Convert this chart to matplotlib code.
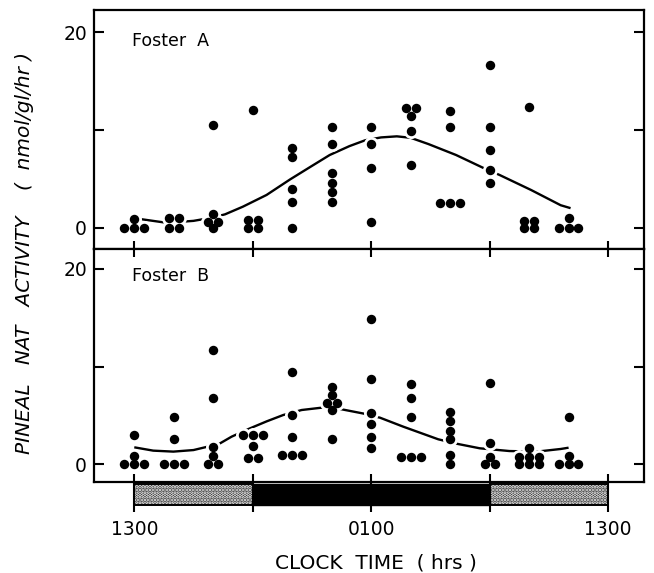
import matplotlib
matplotlib.use("Agg")
import matplotlib.pyplot as plt
from matplotlib.patches import Rectangle

plt.rcParams["hatch.linewidth"] = 1.8

# ---------------- data ----------------
hours = [0, 2, 4, 6, 8, 10, 12, 14, 16, 18, 20, 22]   # hours after 1300

foster_a = [
    [0.9, 0, 0, 0],
    [1.0, 1.0, 0, 0],
    [10.5, 1.4, 0.6, 0.6, 0],
    [12.0, 0.8, 0.8, 0, 0],
    [8.2, 7.2, 4.0, 2.6, 0],
    [10.3, 8.6, 5.6, 4.6, 3.7, 2.6],
    [10.3, 8.6, 6.1, 0.6],
    [12.3, 12.3, 11.4, 9.9, 6.4],
    [11.9, 10.3, 2.5, 2.5, 2.5],
    [16.6, 10.3, 8.0, 5.9, 4.6],
    [12.4, 0.7, 0.7, 0, 0],
    [1.0, 0, 0, 0],
]

foster_b = [
    [3.0, 0.85, 0, 0, 0],
    [4.8, 2.6, 0, 0, 0],
    [11.7, 6.75, 1.8, 0.85, 0, 0],
    [3.0, 3.0, 3.0, 1.9, 0.6, 0.6],
    [9.4, 5.05, 2.8, 0.95, 0.95, 0.95],
    [7.95, 7.1, 6.3, 6.3, 5.6, 2.6],
    [14.9, 8.7, 5.3, 4.1, 2.8, 1.7],
    [8.2, 6.8, 4.8, 0.8, 0.8, 0.8],
    [5.4, 4.4, 3.4, 2.6, 1.0, 0],
    [8.3, 2.2, 0.8, 0, 0],
    [1.7, 0.8, 0.8, 0.8, 0, 0, 0],
    [4.8, 0.85, 0, 0, 0],
]

curve_a_t = [0.25, 1.47, 2.0, 3.0, 4.0, 4.6, 5.5, 6.7, 7.9, 8.9, 9.9, 10.9,
             11.7, 12.5, 13.3, 14.0, 14.9, 16.3, 17.7, 18.5, 20.1, 21.6, 22.1]
curve_a_v = [0.9, 0.55, 0.55, 0.7, 1.05, 1.37, 2.15, 3.35, 4.95, 6.2, 7.44, 8.35,
             8.95, 9.24, 9.35, 9.2, 8.56, 7.44, 6.1, 5.4, 3.86, 2.3, 2.0]

curve_b_t = [0.0, 0.96, 1.98, 3.0, 3.58, 4.34, 4.93, 5.86, 6.71, 7.55, 8.48, 9.5,
             10.43, 11.6, 12.45, 13.63, 15.4, 16.4, 17.5, 19.0, 20.4, 21.6, 22.0]
curve_b_v = [1.74, 1.4, 1.3, 1.46, 1.74, 2.14, 2.83, 3.68, 4.4, 5.05, 5.56, 5.8,
             5.66, 5.2, 4.77, 3.85, 2.56, 2.08, 1.64, 1.36, 1.3, 1.57, 1.7]

photoperiod = [(0, 6, "light"), (6, 18, "dark"), (18, 24, "light")]

x_ticks = [0, 6, 12, 18, 24]
x_ticklabels = ["1300", "", "0100", "", "1300"]
y_ticks = [0, 10, 20]
y_ticklabels = ["0", "", "20"]

# ---------------- helpers ----------------
def spread(values, step=0.5):
    counts = {}
    for v in values:
        counts[v] = counts.get(v, 0) + 1
    seen = {}
    out = []
    for v in values:
        n = counts[v]
        i = seen.get(v, 0)
        seen[v] = i + 1
        out.append((i - (n - 1) / 2) * step)
    return out


def draw_panel(ax, data, ct, cv, label, ypos):
    ax.plot(ct, cv, color="black", lw=1.7, solid_capstyle="butt",
            solid_joinstyle="round", zorder=2)
    xs, ys = [], []
    for h, vals in zip(hours, data):
        for off, v in zip(spread(vals), vals):
            xs.append(h + off)
            ys.append(v)
    ax.plot(xs, ys, "o", ms=10.8, color="white", mew=0, zorder=3)
    ax.plot(xs, ys, "o", ms=6.8, color="black", mew=0, zorder=4)
    ax.text(0.070, ypos, label, transform=ax.transAxes, fontsize=12.5,
            va="center", ha="left")
    for s in ax.spines.values():
        s.set_linewidth(1.6)
    ax.set_xlim(-2.04, 25.8)
    ax.set_yticks(y_ticks)
    ax.set_yticklabels(y_ticklabels, fontsize=13.5)
    ax.set_xticks(x_ticks)
    ax.tick_params(axis="y", which="major", direction="in", length=7.2,
                   width=1.5, left=True, right=True, pad=5)


fig = plt.figure(figsize=(6.54, 5.73), dpi=100)
W, H = 654.0, 573.0
left = 94 / W
width = (643.6 - 94) / W
ax1 = fig.add_axes([left, 1 - 249 / H, width, (249 - 10) / H])
ax2 = fig.add_axes([left, 1 - 482 / H, width, (482 - 249) / H])

draw_panel(ax1, foster_a, curve_a_t, curve_a_v, "Foster  A", (249 - 41) / 239)
draw_panel(ax2, foster_b, curve_b_t, curve_b_v, "Foster  B", (482 - 276) / 233)

ax1.set_ylim(-2.18, 22.28)
ax2.set_ylim(-1.81, 22.04)

ax1.tick_params(axis="x", direction="inout", length=11.5, width=1.5,
                labelbottom=False, top=False)
ax2.tick_params(axis="x", which="major", direction="out", length=21.6,
                width=1.5, top=True, pad=6)
ax2.set_xticklabels(x_ticklabels, fontsize=13.5)
ax2.xaxis.remove_overlapping_locs = False
ax2.set_xticks(x_ticks, minor=True)
ax2.tick_params(axis="x", which="minor", direction="in", length=5.5,
                width=1.5, top=False)
for t in ax2.xaxis.get_major_ticks():
    t.tick2line.set_markersize(5.5)
    t.tick2line.set_marker(3)

# light/dark bar
trans = ax2.get_xaxis_transform()
for start, end, kind in photoperiod:
    if kind == "dark":
        ax2.add_patch(Rectangle((start, -0.099), end - start, 0.089,
                                transform=trans, clip_on=False,
                                facecolor="black", edgecolor="black",
                                lw=1.0, zorder=1))
    else:
        ax2.add_patch(Rectangle((start, -0.099), end - start, 0.089,
                                transform=trans, clip_on=False,
                                facecolor="#1e1e1e", edgecolor="white",
                                hatch=".....", lw=0, zorder=1))
        ax2.add_patch(Rectangle((start, -0.099), end - start, 0.089,
                                transform=trans, clip_on=False,
                                fill=False, edgecolor="black",
                                lw=1.4, zorder=1.1))

fig.text(376 / W, 1 - 563 / H, "CLOCK  TIME  ( hrs )", fontsize=14.5,
         ha="center", va="center")
fig.text(25 / W, 1 - 253 / H, "PINEAL   NAT   ACTIVITY    (  nmol/gl/hr )",
         fontsize=14.5, style="italic", rotation=90, ha="center", va="center")

fig.savefig("out.png", dpi=100)
